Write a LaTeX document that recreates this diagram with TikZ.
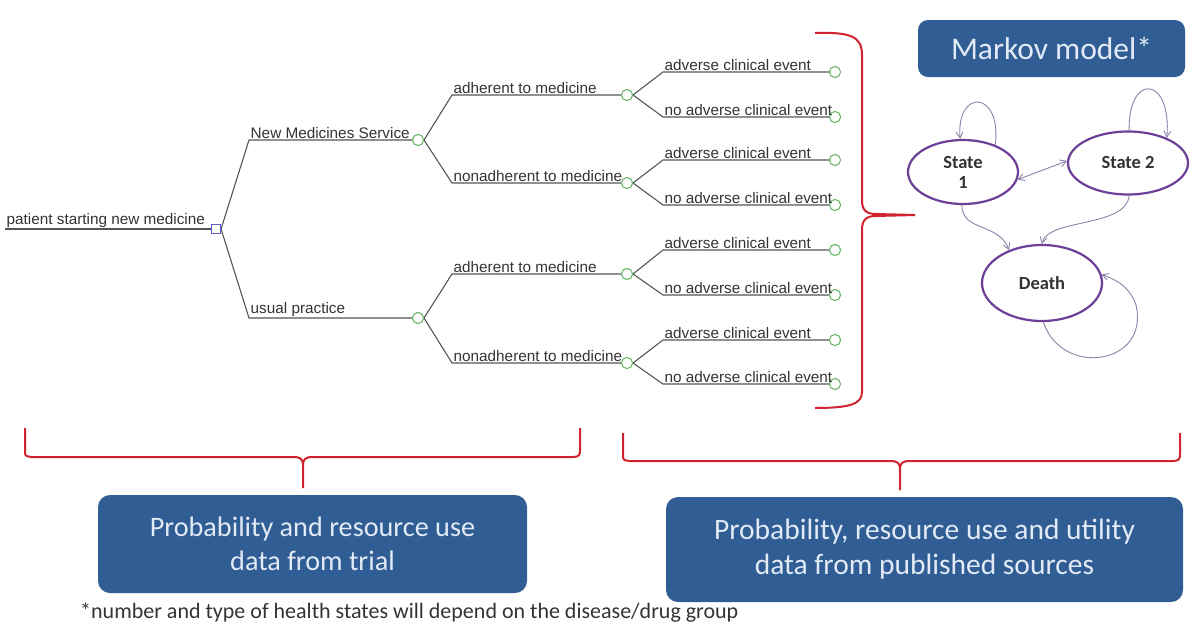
\documentclass[tikz,border=0pt]{standalone}
\usepackage{fontspec}
\setmainfont{Liberation Sans}
\newfontfamily\calfont{Carlito}
\usetikzlibrary{arrows.meta,shapes.geometric}
\definecolor{treegray}{HTML}{555555}
\definecolor{nodegreen}{HTML}{6DB86D}
\definecolor{sqblue}{HTML}{5A5AD2}
\definecolor{bracered}{HTML}{D1232D}
\definecolor{boxblue}{HTML}{2F5D94}
\definecolor{boxtext}{HTML}{E2EAF5}
\definecolor{statepurple}{HTML}{6C3F98}
\definecolor{arrowgray}{HTML}{8E80A8}
\tikzset{
  tree/.style={draw=treegray, line width=1.1pt},
  chance/.style={circle, draw=nodegreen, fill=white, minimum size=11pt, inner sep=0pt, line width=1pt},
  decision/.style={rectangle, draw=sqblue, fill=white, minimum size=9pt, inner sep=0pt, line width=1.1pt},
  lbl/.style={font=\fontsize{15.3}{17}\selectfont, text=black!80, inner sep=1.5pt, anchor=south west},
  brace/.style={draw=bracered, line width=2pt, line join=round},
  bluebox/.style={rectangle, rounded corners=12pt, fill=boxblue, text=boxtext, align=center, font=\calfont\fontsize{28.2}{34}\selectfont},
  state/.style={ellipse, draw=statepurple, line width=2.2pt, fill=white, text=black!80, align=center, font=\calfont\bfseries\fontsize{18.5}{20}\selectfont, inner sep=0pt},
  trans/.style={draw=arrowgray, line width=0.9pt, -{Straight Barb[length=6pt,width=7pt]}}
}
\begin{document}
\begin{tikzpicture}[x=1pt,y=-1pt]
\useasboundingbox (0,0) rectangle (1200,629);
% ---------------- decision tree ----------------
\coordinate (start) at (5,229);
\node[decision] (root) at (216,229) {};
\node[chance] (c1) at (418,140) {};
\node[chance] (c2) at (418,318) {};
\node[chance] (c11) at (627,95) {};
\node[chance] (c12) at (627,183) {};
\node[chance] (c21) at (627,274) {};
\node[chance] (c22) at (627,363) {};
\node[chance] (l111) at (835,72) {};
\node[chance] (l112) at (835,117) {};
\node[chance] (l121) at (835,160) {};
\node[chance] (l122) at (835,205) {};
\node[chance] (l211) at (835,250) {};
\node[chance] (l212) at (835,295) {};
\node[chance] (l221) at (835,340) {};
\node[chance] (l222) at (835,384) {};
% bend points
\coordinate (k1) at (249,140);
\coordinate (k2) at (249,318);
\coordinate (k11) at (452,95);
\coordinate (k12) at (452,183);
\coordinate (k21) at (452,274);
\coordinate (k22) at (452,363);
\coordinate (k111) at (663,72);
\coordinate (k112) at (663,117);
\coordinate (k121) at (663,160);
\coordinate (k122) at (663,205);
\coordinate (k211) at (663,250);
\coordinate (k212) at (663,295);
\coordinate (k221) at (663,340);
\coordinate (k222) at (663,384);
\draw[tree] (start) -- (root.west);
\draw[tree] (root.east) -- (k1) -- (c1.west);
\draw[tree] (root.east) -- (k2) -- (c2.west);
\draw[tree] (c1.east) -- (k11) -- (c11.west);
\draw[tree] (c1.east) -- (k12) -- (c12.west);
\draw[tree] (c2.east) -- (k21) -- (c21.west);
\draw[tree] (c2.east) -- (k22) -- (c22.west);
\draw[tree] (c11.east) -- (k111) -- (l111.west);
\draw[tree] (c11.east) -- (k112) -- (l112.west);
\draw[tree] (c12.east) -- (k121) -- (l121.west);
\draw[tree] (c12.east) -- (k122) -- (l122.west);
\draw[tree] (c21.east) -- (k211) -- (l211.west);
\draw[tree] (c21.east) -- (k212) -- (l212.west);
\draw[tree] (c22.east) -- (k221) -- (l221.west);
\draw[tree] (c22.east) -- (k222) -- (l222.west);
% redraw nodes on top of lines
\foreach \n in {c1,c2,c11,c12,c21,c22,l111,l112,l121,l122,l211,l212,l221,l222}{
  \node[chance] at (\n) {};
}
\node[decision] at (root) {};
% labels
\node[lbl] (t0) at (start) {patient starting new medicine};
\node[lbl] (t1) at (k1) {New Medicines Service};
\node[lbl] (t2) at (k2) {usual practice};
\node[lbl] (t11) at (k11) {adherent to medicine};
\node[lbl] (t12) at (k12) {nonadherent to medicine};
\node[lbl] (t21) at (k21) {adherent to medicine};
\node[lbl] (t22) at (k22) {nonadherent to medicine};
\foreach \k/\txt in {k111/adverse clinical event,k112/no adverse clinical event,k121/adverse clinical event,k122/no adverse clinical event,k211/adverse clinical event,k212/no adverse clinical event,k221/adverse clinical event,k222/no adverse clinical event}{
  \node[lbl] at (\k) {\txt};
}
% ---------------- Markov model ----------------
\node[bluebox, minimum width=267pt, minimum height=57pt, rounded corners=10pt, font=\calfont\fontsize{31.5}{34}\selectfont] (mk) at (1051.5,48.5) {Markov model*};
\node[state, minimum width=110pt, minimum height=64pt] (s1) at (963,172) {State\\1};
\node[state, minimum width=120pt, minimum height=63pt] (s2) at (1128,163) {State 2};
\node[state, minimum width=120pt, minimum height=76pt] (dth) at (1042,283) {Death};
\draw[trans] (s1.40) .. controls (1002,90) and (956,88) .. (s1.95);
\draw[trans] (s2.88) .. controls (1128,72) and (1172,76) .. (s2.33);
\draw[trans, {Straight Barb[length=6pt,width=7pt]}-{Straight Barb[length=6pt,width=7pt]}] (s1.-8) -- (s2.178);
\draw[trans] (s1.-92) .. controls (962,232) and (998,222) .. (dth.135);
\draw[trans] (s2.-88) .. controls (1126,228) and (1048,218) .. (dth.north);
\draw[trans] (dth.-88) .. controls (1062,378) and (1150,365) .. (1136,305) .. controls (1130,288) and (1118,280) .. (dth.8);
% ---------------- braces ----------------
\coordinate (rtip) at (915,215);
\draw[brace] (815,33) .. controls (850,32) and (862,36) .. (862,55) -- (862,200)
  .. controls (862,210) and (866,214) .. (876,214) -- (rtip);
\draw[brace] (rtip) -- (876,216) .. controls (866,216) and (862,220) .. (862,230) -- (862,392)
  .. controls (862,404) and (850,408) .. (815,408);
\node[bluebox, minimum width=429pt, minimum height=98pt] (b1) at (312.5,544) {Probability and resource use\\data from trial};
\node[bluebox, minimum width=517pt, minimum height=105pt, font=\calfont\fontsize{29.5}{35}\selectfont] (b2) at (924.5,549.5) {Probability, resource use and utility\\data from published sources};
\coordinate (ltip) at (303,488);
\draw[brace] (25,428) -- (25,450) .. controls (25,456) .. (31,457) -- (293,457)
  .. controls (301,457) and (303,459) .. (303,466) -- (ltip);
\draw[brace] (303,466) .. controls (303,459) and (305,457) .. (313,457) -- (573,457)
  .. controls (579,457) and (580,455) .. (580,450) -- (580,428);
\coordinate (btip) at (900,490);
\draw[brace] (623,433) -- (623,454) .. controls (623,460) .. (629,461) -- (890,461)
  .. controls (898,461) and (900,463) .. (900,470) -- (btip);
\draw[brace] (900,470) .. controls (900,463) and (902,461) .. (910,461) -- (1173,461)
  .. controls (1179,461) and (1180,459) .. (1180,454) -- (1180,433);
% footnote
\node[anchor=west, font=\calfont\fontsize{22}{26}\selectfont, text=black!80, inner sep=0pt] (fn) at (80,613) {*number and type of health states will depend on the disease/drug group};
\end{tikzpicture}
\end{document}
